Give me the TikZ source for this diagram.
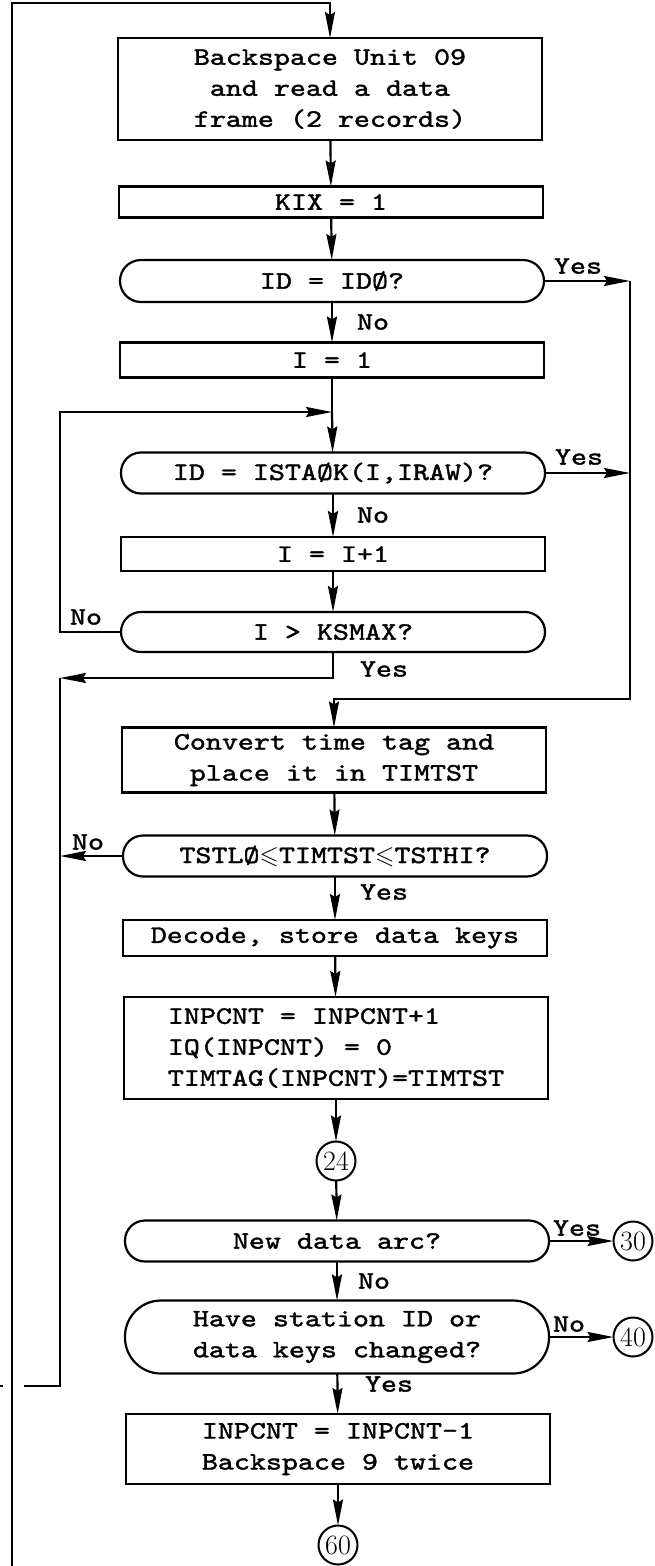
\documentclass[tikz,border=0pt]{standalone}
\usepackage{fontspec}
\usepackage{amssymb}
\usetikzlibrary{arrows.meta}
\newfontfamily\twfont{lmmono10-regular.otf}[FakeBold=1.6,FakeStretch=1.22]
\newcommand{\T}[1]{#1}
\begin{document}
\begin{tikzpicture}[x=1pt,y=-1pt,
  every node/.style={inner sep=0pt, outer sep=0pt},
  ln/.style={line width=2.2pt},
  arr/.style={ln, -{Stealth[length=26pt,width=10pt,inset=3pt]}},
  txt/.style={font=\twfont\fontsize{25}{31}\selectfont},
  proc/.style={txt, draw, line width=2.2pt, minimum width=424pt, align=center},
  dec/.style={rounded corners=#1},
  circ/.style={draw, circle, line width=2pt, minimum size=39pt, font=\fontsize{28}{28}\selectfont},
  lab/.style={txt, anchor=west}]
\useasboundingbox (0,0) rectangle (655,1566);
% main column
\node[proc, minimum height=102pt] (b1) at (330,89) {\T{Backspace Unit 09}\\\T{and read a data}\\\T{frame (2 records)}};
\node[proc, minimum height=31pt] (kix) at (331,202) {\T{KIX = 1}};
\node[proc, dec=21pt, minimum height=42pt] (d1) at (332,281) {\T{ID = IDØ?}};
\node[proc, minimum height=35pt] (i1) at (332,360) {\T{I = 1}};
\coordinate (J) at (332,412);
\node[proc, dec=20pt, minimum height=41pt] (d2) at (333,473) {\T{ID = ISTAØK(I,IRAW)?}};
\node[proc, minimum height=34pt] (i2) at (333,554) {\T{I = I+1}};
\node[proc, dec=20pt, minimum height=40pt] (d3) at (333,632) {\T{I > KSMAX?}};
\node[proc, minimum height=65pt] (conv) at (334,760) {\T{Convert time tag and}\\\T{place it in TIMTST}};
\node[proc, dec=20pt, minimum height=41pt] (d4) at (335,856) {\T{TSTLØ$\leqslant$TIMTST$\leqslant$TSTHI?}};
\node[proc, minimum height=36pt] (dk) at (335,938) {\T{Decode, store data keys}};
\node[proc, minimum height=102pt, align=left] (inp) at (336,1048) {\T{INPCNT = INPCNT+1}\\\T{IQ(INPCNT) = 0}\\\T{TIMTAG(INPCNT)=TIMTST}};
\node[circ] (c24) at (336,1161) {24};
\node[proc, dec=20pt, minimum height=41pt] (d5) at (337,1241) {\T{New data arc?}};
\node[proc, dec=36pt, minimum height=73pt] (d6) at (337,1337) {\T{Have station ID or}\\\T{data keys changed?}};
\node[proc, minimum height=70pt] (inp2) at (338,1449) {\T{INPCNT = INPCNT-1}\\\T{Backspace 9 twice}};
\node[circ] (c60) at (338,1545) {60};
\node[circ] (c30) at (633,1241) {30};
\node[circ] (c40) at (633,1337) {40};
% coordinates
\coordinate (T0) at (12,3);
\coordinate (B0) at (12,1566);
\coordinate (T1) at (330,3);
\coordinate (LN1) at (60,632);
\coordinate (LT) at (60,412);
\coordinate (Y3a) at (333,678);
\coordinate (L2) at (60,678);
\coordinate (L3) at (60,1386);
\coordinate (L4) at (24,1386);
\coordinate (L4n) at (60,856);
\coordinate (S1) at (0,1386);
\coordinate (S2) at (3,1386);
\coordinate (R1) at (630,281);
\coordinate (R2) at (630,473);
\coordinate (R3) at (630,699);
\coordinate (M) at (334,699);
% connectors
\draw[arr] (B0) -- (T0) -- (T1) -- (b1.north);
\draw[arr] (b1) -- (kix);
\draw[arr] (kix) -- (d1);
\draw[arr] (d1) -- (i1);
\draw[ln] (i1) -- (J);
\draw[arr] (J) -- (d2);
\draw[arr] (d2) -- (i2);
\draw[arr] (i2) -- (d3);
\draw[arr] (d3.west) -- (LN1) -- (LT) -- (J);
\draw[arr] (d3.south) -- (Y3a) -- (L2);
\draw[ln] (L2) -- (L3) -- (L4);
\draw[ln] (S1) -- (S2);
\draw[arr] (d4.west) -- (L4n);
\draw[arr] (d1.east) -- (R1);
\draw[arr] (d2.east) -- (R2);
\draw[arr] (R1) -- (R3) -- (M) -- (conv.north);
\draw[arr] (conv) -- (d4);
\draw[arr] (d4) -- (dk);
\draw[arr] (dk) -- (inp);
\draw[arr] (inp) -- (c24);
\draw[arr] (c24) -- (d5);
\draw[arr] (d5) -- (d6);
\draw[arr] (d6) -- (inp2);
\draw[arr] (inp2) -- (c60);
\draw[arr] (d5.east) -- (c30);
\draw[arr] (d6.east) -- (c40);
% labels
\node[lab] (y1) at (554,266) {\T{Yes}};
\node[lab] (y2) at (555,457) {\T{Yes}};
\node[lab] (y5) at (553,1228) {\T{Yes}};
\node[lab] (n6) at (553,1324) {\T{No}};
\node[lab] (n3) at (70,617) {\T{No}};
\node[lab] (n4) at (72,842) {\T{No}};
\node[lab] (n1) at (357,322) {\T{No}};
\node[lab] (n2) at (357,515) {\T{No}};
\node[lab] (y3) at (360,669) {\T{Yes}};
\node[lab] (y4) at (360,892) {\T{Yes}};
\node[lab] (n5) at (358,1281) {\T{No}};
\node[lab] (y6) at (365,1384) {\T{Yes}};
\end{tikzpicture}
\end{document}
